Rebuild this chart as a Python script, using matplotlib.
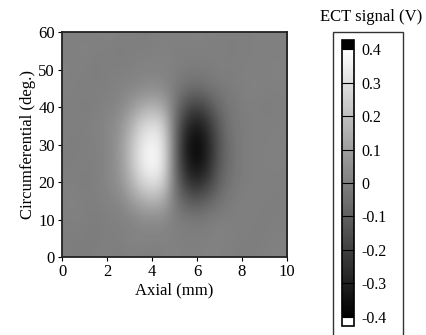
import numpy as np
import matplotlib
matplotlib.use("Agg")
import matplotlib.pyplot as plt
from matplotlib.colors import Normalize
from matplotlib.cm import ScalarMappable
from matplotlib.patches import Rectangle

plt.rcParams["font.family"] = ["Liberation Serif", "DejaVu Serif"]
plt.rcParams["axes.unicode_minus"] = False

# grid of ECT signal (V)
axial_mm = [0.0, 0.5, 1.0, 1.5, 2.0, 2.5, 3.0, 3.5, 4.0, 4.5, 5.0,
            5.5, 6.0, 6.5, 7.0, 7.5, 8.0, 8.5, 9.0, 9.5, 10.0]
circ_deg = [0, 5, 10, 15, 20, 25, 30, 35, 40, 45, 50, 55, 60]
signal = [
    [0.00, -0.01, -0.01, 0.00, 0.00, -0.01, 0.00, 0.00, -0.01, 0.00, 0.01, 0.00, 0.00, 0.01, 0.00, 0.00, -0.01, 0.00, 0.00, 0.01, 0.00],
    [-0.01, 0.00, -0.01, -0.01, 0.00, 0.00, 0.01, 0.01, 0.01, 0.01, 0.00, 0.00, 0.00, 0.00, 0.01, 0.00, 0.00, -0.01, 0.00, 0.00, 0.00],
    [0.00, 0.00, 0.00, -0.01, 0.00, 0.00, 0.01, 0.03, 0.03, 0.03, 0.00, -0.01, -0.02, -0.01, 0.00, 0.00, 0.00, 0.00, -0.01, 0.00, 0.00],
    [0.00, 0.01, 0.00, 0.00, 0.01, 0.02, 0.07, 0.13, 0.16, 0.13, -0.02, -0.10, -0.12, -0.08, -0.04, -0.01, 0.00, 0.00, 0.00, -0.01, 0.00],
    [0.00, 0.00, -0.01, 0.00, 0.02, 0.05, 0.14, 0.26, 0.31, 0.26, -0.04, -0.22, -0.27, -0.20, -0.08, -0.03, -0.01, 0.00, 0.00, 0.00, 0.00],
    [-0.01, 0.00, 0.00, 0.00, 0.02, 0.06, 0.18, 0.33, 0.39, 0.32, -0.06, -0.30, -0.37, -0.27, -0.11, -0.04, -0.01, 0.00, 0.00, 0.00, 0.00],
    [0.00, -0.01, 0.00, 0.00, 0.02, 0.06, 0.18, 0.32, 0.38, 0.31, -0.06, -0.32, -0.39, -0.28, -0.12, -0.04, -0.01, 0.00, 0.00, 0.00, 0.01],
    [0.00, 0.00, 0.00, 0.01, 0.02, 0.05, 0.14, 0.26, 0.31, 0.26, -0.05, -0.27, -0.33, -0.24, -0.10, -0.03, -0.01, 0.00, 0.00, 0.00, 0.00],
    [0.00, 0.00, -0.01, 0.00, 0.01, 0.02, 0.07, 0.13, 0.16, 0.13, -0.03, -0.16, -0.20, -0.14, -0.06, -0.02, -0.01, 0.00, -0.01, 0.00, 0.00],
    [0.00, 0.00, 0.00, 0.00, 0.00, 0.01, 0.02, 0.03, 0.04, 0.03, -0.01, -0.05, -0.06, -0.04, -0.02, -0.01, 0.00, 0.01, 0.00, 0.00, 0.00],
    [0.01, 0.00, 0.00, -0.01, 0.00, 0.00, 0.00, 0.01, 0.01, 0.01, 0.00, -0.01, -0.01, -0.01, 0.00, 0.00, 0.00, 0.00, 0.00, 0.01, 0.00],
    [0.00, 0.00, 0.01, 0.00, 0.00, -0.01, 0.00, 0.00, 0.00, 0.01, 0.00, 0.00, 0.00, 0.00, 0.00, -0.01, 0.00, 0.00, 0.00, 0.00, 0.00],
    [0.00, 0.00, 0.00, 0.00, 0.01, 0.00, 0.00, -0.01, 0.00, 0.00, 0.00, 0.00, 0.01, 0.00, 0.00, 0.00, 0.00, 0.00, 0.00, 0.00, 0.00],
]
cbar_ticks = [0.4, 0.3, 0.2, 0.1, 0.0, -0.1, -0.2, -0.3, -0.4]
cbar_labels = ["0.4", "0.3", "0.2", "0.1", "0", "-0.1", "-0.2", "-0.3", "-0.4"]

fs = 12
fig = plt.figure(figsize=(4.27, 3.35), dpi=100)
fig.set_facecolor("white")

ax = fig.add_axes([0.1452, 0.2328, 0.527, 0.6716])
dx = (axial_mm[1] - axial_mm[0]) / 2
dy = (circ_deg[1] - circ_deg[0]) / 2
ax.imshow(np.array(signal), cmap="gray", vmin=-0.4, vmax=0.4, origin="lower",
          interpolation="bicubic", aspect="auto",
          extent=[axial_mm[0] - dx, axial_mm[-1] + dx, circ_deg[0] - dy, circ_deg[-1] + dy])
ax.set_xlim(0, 10)
ax.set_ylim(0, 60)
ax.set_xticks([0, 2, 4, 6, 8, 10])
ax.set_yticks([0, 10, 20, 30, 40, 50, 60])
ax.tick_params(axis="both", direction="out", length=3, width=0.8, labelsize=fs, pad=2)
for s in ax.spines.values():
    s.set_linewidth(1.3)
    s.set_color("#222222")
ax.set_xlabel("Axial (mm)", fontsize=fs, labelpad=2)
ax.set_ylabel("Circumferential (deg.)", fontsize=fs, labelpad=2)

# colorbar
cmap_bar = plt.get_cmap("gray").copy()
cmap_bar.set_over("black")
cmap_bar.set_under("white")
cax = fig.add_axes([0.801, 0.0269, 0.0281, 0.8537])
sm = ScalarMappable(norm=Normalize(vmin=-0.4, vmax=0.4), cmap=cmap_bar)
cbar = fig.colorbar(sm, cax=cax, extend="both", extendrect=True, extendfrac=0.034,
                    ticks=cbar_ticks)
cbar.ax.set_yticklabels(cbar_labels)
cbar.ax.tick_params(direction="in", length=8.6, width=0.8, color="black", pad=5,
                    labelsize=fs - 0.5)
cbar.outline.set_linewidth(1.2)

fig.add_artist(Rectangle((0.780, -0.05), 0.164, 0.9545, transform=fig.transFigure,
                         fill=False, lw=1.0, ec="#333333"))
fig.text(0.869, 0.949, "ECT signal (V)", ha="center", va="center", fontsize=fs)

plt.savefig("out.png", dpi=100)
